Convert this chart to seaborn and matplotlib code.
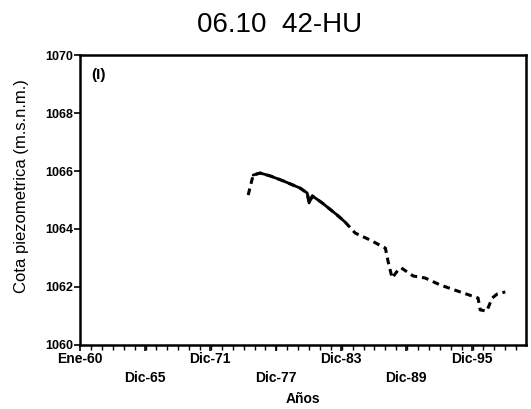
import matplotlib
matplotlib.use("Agg")
import matplotlib.pyplot as plt
import numpy as np
import pandas as pd
import seaborn as sns


# readings taken off the hydrograph (decimal year, piezometric level)
years = [
    1975.41, 1975.87, 1976.51, 1977.43, 1978.62, 1980.18, 1980.83, 1981.00,
    1981.30, 1982.20, 1983.58, 1984.30, 1985.23, 1986.60, 1988.00, 1988.26,
    1988.62, 1989.17, 1989.45, 1990.00, 1990.55, 1991.65, 1993.03, 1994.86,
    1996.50, 1996.70, 1997.30, 1997.80, 1998.26, 1999.00,
]
levels = [
    1065.17, 1065.86, 1065.93, 1065.83, 1065.66, 1065.41, 1065.24, 1064.90,
    1065.14, 1064.90, 1064.48, 1064.24, 1063.86, 1063.62, 1063.34, 1062.86,
    1062.31, 1062.59, 1062.66, 1062.52, 1062.38, 1062.31, 1062.07, 1061.83,
    1061.62, 1061.21, 1061.17, 1061.62, 1061.76, 1061.83,
]
# stretch with continuous record (solid), the rest is dashed
solid_start, solid_end = 1, 11

tick_years = [1960.0, 1965.92, 1971.92, 1977.92, 1983.92, 1989.92, 1995.92]
tick_labels = ["Ene-60", "Dic-65", "Dic-71", "Dic-77", "Dic-83", "Dic-89", "Dic-95"]
y_ticks = [1060, 1062, 1064, 1066, 1068, 1070]


def plot_hydrograph() -> None:
    sns.set_style("ticks")
    plt.rcParams["font.family"] = ["Liberation Sans", "DejaVu Sans"]
    plt.rcParams.update({
        "text.color": "black",
        "axes.labelcolor": "black",
        "xtick.color": "black",
        "ytick.color": "black",
    })

    fig = plt.figure(figsize=(5.31, 4.09), dpi=100)
    ax = fig.add_axes([0.151, 0.1565, 0.84, 0.709])

    df = pd.DataFrame({"year": years, "level": levels})
    solid = df.iloc[solid_start:solid_end + 1]

    sns.lineplot(data=df, x="year", y="level", ax=ax, color="black",
                 linewidth=2.2, linestyle=(0, (2.2, 1.6)))
    sns.lineplot(data=solid, x="year", y="level", ax=ax, color="black",
                 linewidth=2.0)

    ax.set_xlim(1960.0, 2000.92)
    ax.set_ylim(1060, 1070)

    labels = [lab if i % 2 == 0 else "\n" + lab for i, lab in enumerate(tick_labels)]
    ax.set_xticks(tick_years)
    ax.set_xticklabels(labels, fontsize=10, fontweight="bold", linespacing=1.5)
    ax.set_xticks(np.arange(1960, 2001, 1), minor=True)
    ax.set_yticks(y_ticks)
    ax.set_yticklabels([str(v) for v in y_ticks], fontsize=9, fontweight="bold")

    ax.tick_params(axis="both", which="major", length=4, width=1.2, pad=1)
    ax.tick_params(axis="x", which="minor", length=3.5, width=1.0)

    for side in ["left", "right", "top", "bottom"]:
        ax.spines[side].set_visible(True)
        ax.spines[side].set_linewidth(1.8)
        ax.spines[side].set_color("black")

    ax.set_xlabel("Años", fontsize=10, fontweight="bold", labelpad=5)
    ax.set_ylabel("Cota piezometrica (m.s.n.m.)", fontsize=12)
    ax.yaxis.set_label_coords(-0.115, 0.548)
    ax.text(0.025, 0.93, "(I)", transform=ax.transAxes, fontsize=11,
            fontweight="bold", va="center", ha="left")

    fig.text(0.527, 0.94, "06.10  42-HU", fontsize=20, ha="center", va="center")
    fig.savefig("out.png", dpi=100)


if __name__ == "__main__":
    plot_hydrograph()
